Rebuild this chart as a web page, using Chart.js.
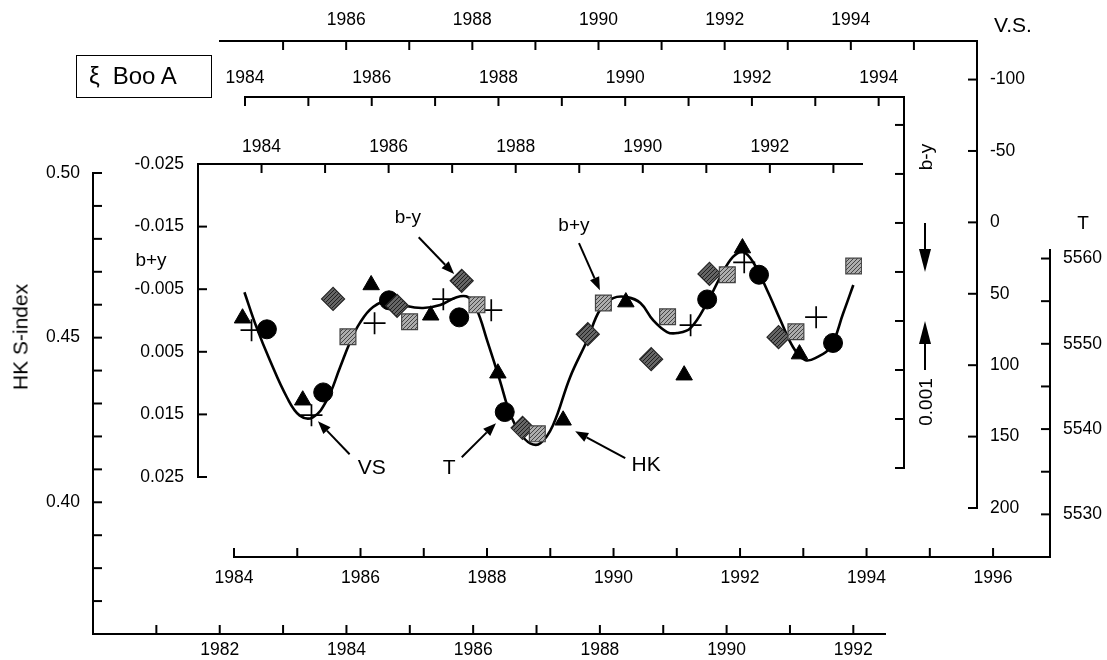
<!DOCTYPE html>
<html>
<head>
<meta charset="utf-8">
<script src="https://cdn.jsdelivr.net/npm/chart.js@4.4.1/dist/chart.umd.min.js"></script>
<style>
  body { margin: 0; background: #fff; }
  #wrap { position: relative; width: 1107px; height: 660px; font-family: "Liberation Sans", Arial, sans-serif; color: #000; }
  #wrap canvas { position: absolute; left: 0; top: 0; }
  .lbl { position: absolute; white-space: nowrap; line-height: 1; transform: translate(-50%, -50%); }
  .lbl.rot { transform: translate(-50%, -50%) rotate(-90deg); }
  #title { position: absolute; left: 76px; top: 55px; width: 136px; height: 43px; border: 1.5px solid #000; box-sizing: border-box; font-size: 24px; line-height: 40px; padding-left: 12px; white-space: nowrap; }
</style>
</head>
<body>
<div id="wrap">
  <canvas id="hkChart" width="1107" height="660"></canvas>
  <canvas id="tChart" width="1107" height="660"></canvas>
  <canvas id="vsChart" width="1107" height="660"></canvas>
  <canvas id="byChart" width="1107" height="660"></canvas>
  <canvas id="bpyChart" width="1107" height="660"></canvas>
  <div id="title"><span style="margin-right:13px">ξ</span>Boo A</div>
  <div class="lbl rot" style="left:20px; top:337px; font-size:21px">HK S-index</div>
  <div class="lbl" style="left:151px; top:259px; font-size:19px">b+y</div>
  <div class="lbl" style="left:1013px; top:24px; font-size:21px">V.S.</div>
  <div class="lbl" style="left:1083px; top:222px; font-size:19px">T</div>
  <div class="lbl rot" style="left:925px; top:157px; font-size:19px">b-y</div>
  <div class="lbl rot" style="left:925px; top:402px; font-size:19px">0.001</div>
</div>
<script>
// HK S-index (triangles)
var hkYears = [1982.36, 1983.31, 1984.39, 1985.33, 1986.39, 1987.42, 1988.41, 1989.33, 1990.25, 1991.15];
var hkValues = [0.4559, 0.4310, 0.4660, 0.4568, 0.4392, 0.4249, 0.4608, 0.4386, 0.4772, 0.4450];

// temperature T (circles)
var tYears = [1984.52, 1985.41, 1986.45, 1987.56, 1988.28, 1991.48, 1992.30, 1993.47];
var tValues = [5551.7, 5544.3, 5555.1, 5553.1, 5542.0, 5555.2, 5558.1, 5550.1];

// V.S. (crosses)
var vsYears = [1984.50, 1985.45, 1986.45, 1987.54, 1988.30, 1991.46, 1992.31, 1993.45];
var vsValues = [75.5, 135.0, 70.6, 53.8, 61.5, 72.0, 28.0, 66.4];

// b-y (diamonds)
var byYears = [1985.39, 1986.40, 1987.42, 1988.38, 1989.41, 1990.41, 1991.33, 1992.42];
var byValues = [0.00055, 0.00069, 0.00018, 0.00318, 0.00127, 0.00178, 0.00004, 0.00133];

// b+y (squares)
var bpyYears = [1985.36, 1986.33, 1987.39, 1988.34, 1989.38, 1990.39, 1991.33, 1992.41, 1993.32];
var bpyValues = [0.0026, 0.0002, -0.0025, 0.0181, -0.0028, -0.0006, -0.0073, 0.0018, -0.0087];

// fitted cycle curve, on the HK scale
var fitYears = [1982.39, 1982.58, 1982.79, 1983.06, 1983.26, 1983.47, 1983.69, 1983.90, 1984.05, 1984.21,
  1984.42, 1984.69, 1984.95, 1985.21, 1985.48, 1985.74, 1985.92, 1986.06, 1986.22, 1986.42,
  1986.58, 1986.74, 1986.90, 1987.06, 1987.26, 1987.53, 1987.80, 1988.00, 1988.21, 1988.43,
  1988.64, 1988.84, 1989.06, 1989.22, 1989.43, 1989.69, 1989.90, 1990.10, 1990.26, 1990.42,
  1990.64, 1990.85, 1991.05, 1991.24, 1991.43, 1991.64, 1991.84, 1992.00];
var fitValues = [0.4638, 0.4532, 0.4432, 0.4319, 0.4264, 0.4258, 0.4310, 0.4410, 0.4483, 0.4544,
  0.4593, 0.4614, 0.4596, 0.4590, 0.4599, 0.4623, 0.4623, 0.4584, 0.4492, 0.4371,
  0.4270, 0.4210, 0.4179, 0.4179, 0.4234, 0.4380, 0.4492, 0.4584, 0.4620, 0.4623,
  0.4605, 0.4553, 0.4517, 0.4514, 0.4529, 0.4605, 0.4684, 0.4745, 0.4760, 0.4729,
  0.4644, 0.4553, 0.4471, 0.4432, 0.4441, 0.4471, 0.4574, 0.4660];

// labelled arrows, placed in HK-frame coordinates
var notes = [
  { text: 'b-y', size: 19, at: [1984.97, 0.4863], from: [1985.14, 0.4805], to: [1985.70, 0.4693] },
  { text: 'b+y', size: 19, at: [1987.59, 0.4839], from: [1987.67, 0.4787], to: [1988.00, 0.4644] },
  { text: 'VS', size: 21, at: [1984.40, 0.4103], from: [1984.05, 0.4146], to: [1983.55, 0.4246] },
  { text: 'T', size: 21, at: [1985.62, 0.4103], from: [1985.82, 0.4137], to: [1986.36, 0.4240] },
  { text: 'HK', size: 21, at: [1988.73, 0.4112], from: [1988.40, 0.4134], to: [1987.61, 0.4216] }
];

var FONT = '"Liberation Sans", Arial, sans-serif';
Chart.defaults.font.family = FONT;
Chart.defaults.color = '#000';

function pts(xs, ys) {
  return xs.map(function (x, i) { return { x: x, y: ys[i] }; });
}

function evenYears(from, to) {
  return function (v) { return (v % 2 === 0 && v >= from && v <= to) ? String(v) : ''; };
}

function hatch(bg, fg) {
  var c = document.createElement('canvas');
  c.width = 4; c.height = 4;
  var x = c.getContext('2d');
  x.fillStyle = bg;
  x.fillRect(0, 0, 4, 4);
  x.strokeStyle = fg;
  x.lineWidth = 1;
  x.beginPath(); x.moveTo(0, 4); x.lineTo(4, 0); x.stroke();
  return x.createPattern(c, 'repeat');
}

// axis line with labels outside the frame; the box size is fixed (size px)
// so that layout padding + size puts the frame edge where it belongs
function axis(pos, min, max, step, labelFn, pad, size, reverse) {
  return {
    type: 'linear', position: pos, min: min, max: max, reverse: !!reverse,
    afterFit: function (s) { if (s.isHorizontal()) s.height = size; else s.width = size; },
    border: { display: true, color: '#000', width: 2 },
    grid: { drawOnChartArea: false, drawTicks: false },
    ticks: {
      stepSize: step, includeBounds: false, autoSkip: false, maxTicksLimit: 200,
      maxRotation: 0, minRotation: 0, padding: pad, color: '#000',
      font: { size: 17.5, family: FONT }, callback: labelFn
    }
  };
}

// tick marks pointing into the frame
var inwardTicks = {
  id: 'inwardTicks',
  afterDraw: function (chart, args, opts) {
    var ctx = chart.ctx;
    var skip = (opts && opts.skip) || [];
    ctx.save();
    ctx.strokeStyle = '#000';
    ctx.lineWidth = 2;
    Object.keys(chart.scales).forEach(function (k) {
      var s = chart.scales[k];
      var len = 9;
      var area = chart.chartArea;
      s.ticks.forEach(function (t, i) {
        if (s.isHorizontal() && skip.indexOf(t.value) >= 0) return;
        var p = s.getPixelForTick(i);
        ctx.beginPath();
        if (s.position === 'bottom') { ctx.moveTo(p, area.bottom); ctx.lineTo(p, area.bottom - len); }
        else if (s.position === 'top') { ctx.moveTo(p, area.top); ctx.lineTo(p, area.top + len); }
        else if (s.position === 'left') { ctx.moveTo(area.left, p); ctx.lineTo(area.left + len, p); }
        else { ctx.moveTo(area.right, p); ctx.lineTo(area.right - len, p); }
        ctx.stroke();
      });
    });
    ctx.restore();
  }
};
Chart.register(inwardTicks);

function arrow(ctx, x1, y1, x2, y2, head, wide) {
  var a = Math.atan2(y2 - y1, x2 - x1);
  var bx = x2 - head * Math.cos(a), by = y2 - head * Math.sin(a);
  ctx.beginPath();
  ctx.moveTo(x1, y1);
  ctx.lineTo(bx, by);
  ctx.stroke();
  ctx.beginPath();
  ctx.moveTo(x2, y2);
  ctx.lineTo(bx + wide / 2 * Math.sin(a), by - wide / 2 * Math.cos(a));
  ctx.lineTo(bx - wide / 2 * Math.sin(a), by + wide / 2 * Math.cos(a));
  ctx.closePath();
  ctx.fill();
}

var notesPlugin = {
  id: 'notes',
  afterDraw: function (chart) {
    var ctx = chart.ctx, sx = chart.scales.x, sy = chart.scales.y;
    ctx.save();
    ctx.strokeStyle = '#000';
    ctx.fillStyle = '#000';
    ctx.lineWidth = 2;
    ctx.textAlign = 'center';
    ctx.textBaseline = 'middle';
    notes.forEach(function (n) {
      arrow(ctx, sx.getPixelForValue(n.from[0]), sy.getPixelForValue(n.from[1]),
        sx.getPixelForValue(n.to[0]), sy.getPixelForValue(n.to[1]), 13, 10);
      ctx.font = n.size + 'px ' + FONT;
      ctx.fillText(n.text, sx.getPixelForValue(n.at[0]), sy.getPixelForValue(n.at[1]));
    });
    ctx.restore();
  }
};

// the two arrows beside the b-y axis mark one 0.001 step of that scale
var byArrows = {
  id: 'byArrows',
  afterDraw: function (chart) {
    var ctx = chart.ctx, sy = chart.scales.y;
    var x = chart.chartArea.right + 21;
    ctx.save();
    ctx.strokeStyle = '#000';
    ctx.fillStyle = '#000';
    ctx.lineWidth = 2;
    arrow(ctx, x, sy.getPixelForValue(-0.001), x, sy.getPixelForValue(0), 23, 12);
    arrow(ctx, x, sy.getPixelForValue(0.002), x, sy.getPixelForValue(0.001), 23, 12);
    ctx.restore();
  }
};

function baseOptions(padding, scales, skip) {
  return {
    responsive: false,
    animation: false,
    events: [],
    layout: { padding: padding },
    scales: scales,
    plugins: { legend: { display: false }, tooltip: { enabled: false }, inwardTicks: { skip: skip || [] } }
  };
}

// HK S-index frame: left + bottom axes (frame 93..885 x 173..634)
new Chart(document.getElementById('hkChart'), {
  type: 'scatter',
  data: {
    datasets: [{
      label: 'HK',
      data: pts(hkYears, hkValues),
      pointStyle: 'triangle',
      pointRadius: 9.5,
      backgroundColor: '#000',
      borderColor: '#000',
      borderWidth: 1
    }, {
      label: 'fit',
      data: pts(fitYears, fitValues),
      showLine: true,
      pointRadius: 0,
      borderColor: '#000',
      borderWidth: 2.6,
      tension: 0.4
    }]
  },
  options: baseOptions({ left: 3, top: 173, right: 222, bottom: 0 }, {
    x: axis('bottom', 1980, 1992.5, 1, evenYears(1982, 1992), 6, 26),
    y: axis('left', 0.36, 0.50, 0.01, function (v) {
      var c = Math.round(v * 100);
      return (c % 5 === 0 && c >= 40) ? (c / 100).toFixed(2) : '';
    }, 13, 90)
  }),
  plugins: [notesPlugin]
});

// temperature frame: bottom + right axes (frame 234..1050 x 250..557)
new Chart(document.getElementById('tChart'), {
  type: 'scatter',
  data: {
    datasets: [{
      label: 'T',
      data: pts(tYears, tValues),
      pointStyle: 'circle',
      pointRadius: 9.5,
      backgroundColor: '#000',
      borderColor: '#000',
      borderWidth: 1
    }]
  },
  options: baseOptions({ left: 234, top: 250, right: 0, bottom: 63 }, {
    x: axis('bottom', 1984, 1996.9, 1, evenYears(1984, 1996), 11, 40),
    y: axis('right', 5525, 5561, 5, function (v) { return v % 10 === 0 ? String(v) : ''; }, 13, 57)
  })
});

// V.S. frame: top + right axes (frame 220..977 x 41..508)
new Chart(document.getElementById('vsChart'), {
  type: 'scatter',
  data: {
    datasets: [{
      label: 'VS',
      data: pts(vsYears, vsValues),
      pointStyle: 'cross',
      pointRadius: 11,
      borderColor: '#000',
      borderWidth: 1.7
    }]
  },
  options: baseOptions({ left: 220, top: 0, right: 70, bottom: 152 }, {
    x: axis('top', 1984, 1996, 1, evenYears(1986, 1994), 10, 41),
    y: axis('right', -127, 200, 50, function (v) { return String(v); }, 13, 60, true)
  }, [1984])
});

// b-y frame: top + right axes, unlabelled steps of 0.001 (frame 245..904 x 97..468)
new Chart(document.getElementById('byChart'), {
  type: 'scatter',
  data: {
    datasets: [{
      label: 'b-y',
      data: pts(byYears, byValues),
      pointStyle: 'rectRot',
      pointRadius: 11.5,
      backgroundColor: hatch('#666', '#1e1e1e'),
      borderColor: '#262626',
      borderWidth: 1.2
    }]
  },
  options: baseOptions({ left: 245, top: 67, right: 193, bottom: 192 }, {
    x: axis('top', 1984, 1994.4, 1, evenYears(1984, 1994), 8, 30),
    y: axis('right', -0.00357, 0.004, 0.001, function () { return ''; }, 13, 10, true)
  }),
  plugins: [byArrows]
});

// b+y frame: left + top axes (frame 198..862 x 164..477)
new Chart(document.getElementById('bpyChart'), {
  type: 'scatter',
  data: {
    datasets: [{
      label: 'b+y',
      data: pts(bpyYears, bpyValues),
      pointStyle: 'rect',
      pointRadius: 11.2,
      backgroundColor: hatch('#adadad', '#444'),
      borderColor: '#444',
      borderWidth: 1.2
    }]
  },
  options: baseOptions({ left: 118, top: 134, right: 245, bottom: 183 }, {
    x: axis('top', 1983, 1993.45, 1, evenYears(1984, 1992), 6.5, 30),
    y: axis('left', -0.025, 0.025, 0.01, function (v) { return v.toFixed(3); }, 14, 80, true)
  })
});
</script>
</body>
</html>
